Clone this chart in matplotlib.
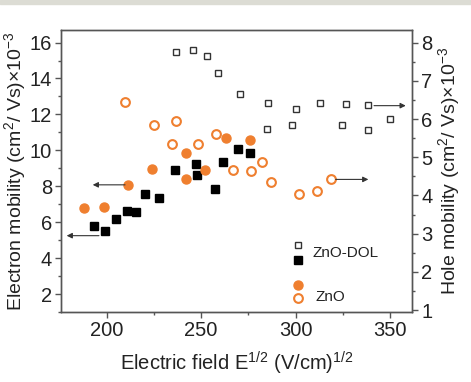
import numpy as np
import matplotlib
matplotlib.use("Agg")
import matplotlib.pyplot as plt
from matplotlib.ticker import MultipleLocator

plt.rcParams["font.family"] = ["Liberation Sans", "DejaVu Sans"]
plt.rcParams["mathtext.fontset"] = "custom"
plt.rcParams["mathtext.rm"] = "Liberation Sans"
plt.rcParams["mathtext.it"] = "Liberation Sans:italic"

ORANGE = "#EF7F2F"
DARK = "#333333"

# ZnO-DOL electron mobility (left axis), filled squares
dol_e_x = [193.1, 199.1, 205.1, 210.6, 215.4, 220.1, 227.7, 236.3, 247.4, 247.6, 257.3, 261.7, 269.5, 275.9]
dol_e_y = [5.81, 5.53, 6.18, 6.63, 6.56, 7.56, 7.37, 8.88, 9.25, 8.64, 7.86, 9.35, 10.07, 9.85]

# ZnO electron mobility (left axis), filled circles
zno_e_x = [188.1, 198.4, 211.4, 223.8, 241.8, 241.8, 252.2, 262.9, 275.8]
zno_e_y = [6.80, 6.87, 8.08, 8.96, 9.85, 8.41, 8.88, 10.68, 10.59]

# ZnO-DOL hole mobility (right axis), open squares
dol_h_x = [236.5, 245.5, 252.9, 259.1, 270.3, 285.2, 300.1, 312.8, 326.5, 338.3, 350.1,
           284.6, 298.0, 324.4, 338.5]
dol_h_y = [7.76, 7.81, 7.66, 7.21, 6.65, 6.43, 6.26, 6.43, 6.39, 6.36, 6.00,
           5.73, 5.84, 5.84, 5.71]

# ZnO hole mobility (right axis), open circles
zno_h_x = [209.7, 225.0, 236.9, 234.8, 248.1, 257.7, 267.0, 276.4, 282.1, 286.9, 301.8, 311.5, 318.7]
zno_h_y = [6.44, 5.85, 5.94, 5.34, 5.35, 5.61, 4.66, 4.63, 4.88, 4.34, 4.05, 4.12, 4.42]

# arrows: (tail x, head x, y)
left_arrows = [(209.7, 192.6, 8.08), (195.9, 178.8, 5.25)]
right_arrows = [(341.5, 358.3, 6.35), (321.2, 338.5, 4.42)]

fig = plt.figure(figsize=(4.71, 3.82), dpi=100)
fig.patches.append(plt.Rectangle((0, 0.99), 1, 0.01, transform=fig.transFigure,
                                 color="#dcdcd4", zorder=0))
ax = fig.add_axes([0.1295, 0.1832, 0.7452, 0.7383])
ax2 = ax.twinx()

ax.plot(dol_e_x, dol_e_y, "s", ms=5.3, color="black", mec="black")
ax.plot(zno_e_x, zno_e_y, "o", ms=6.5, color=ORANGE, mec=ORANGE)
ax2.plot(dol_h_x, dol_h_y, "s", ms=4.6, mfc="none", mec=DARK, mew=1.0)
ax2.plot(zno_h_x, zno_h_y, "o", ms=6.3, mfc="none", mec=ORANGE, mew=1.5)

aprops = dict(arrowstyle="-|>", color=DARK, lw=0.8, mutation_scale=8,
              shrinkA=0, shrinkB=0)
for x0, x1, y in left_arrows:
    ax.annotate("", xy=(x1, y), xytext=(x0, y), arrowprops=aprops)
for x0, x1, y in right_arrows:
    ax2.annotate("", xy=(x1, y), xytext=(x0, y), arrowprops=aprops)

ax.set_xlim(175.8, 361.6)
ax.set_ylim(1.0, 16.7)
ax2.set_ylim(0.95, 8.33)

ax.xaxis.set_major_locator(MultipleLocator(50))
ax.xaxis.set_minor_locator(MultipleLocator(25))
ax.yaxis.set_major_locator(MultipleLocator(2))
ax.yaxis.set_minor_locator(MultipleLocator(1))
ax2.yaxis.set_major_locator(MultipleLocator(1))
ax2.yaxis.set_minor_locator(MultipleLocator(0.5))

for a in (ax, ax2):
    for s in a.spines.values():
        s.set_color("#555555")
        s.set_linewidth(1.0)
    a.tick_params(which="major", length=4.5, width=1.0, color="#555555",
                  labelsize=14.5, labelcolor="#222222", pad=2)
    a.tick_params(which="minor", length=2.5, width=1.0, color="#555555")
ax.tick_params(axis="x", which="both", top=False)

ax.set_xlabel(r"Electric field E$^{1/2}$ (V/cm)$^{1/2}$", fontsize=14.5, color="#222222", labelpad=7)
ax.set_ylabel(r"Electron mobility (cm$^2$/ Vs)$\times$10$^{-3}$", fontsize=14, color="#222222", labelpad=1)
ax2.set_ylabel(r"Hole mobility (cm$^2$/ Vs)$\times$10$^{-3}$", fontsize=14, color="#222222",
               rotation=90, labelpad=3)

# legend drawn in axes coordinates
lx = 0.676
ax.plot([lx], [0.238], "s", ms=4.6, mfc="none", mec=DARK, mew=1.0, transform=ax.transAxes, clip_on=False)
ax.plot([lx], [0.184], "s", ms=5.3, color="black", transform=ax.transAxes, clip_on=False)
ax.text(0.716, 0.208, "ZnO-DOL", fontsize=11, color="#222222", va="center", transform=ax.transAxes)
ax.plot([lx], [0.095], "o", ms=6.5, color=ORANGE, transform=ax.transAxes, clip_on=False)
ax.plot([lx], [0.050], "o", ms=6.3, mfc="none", mec=ORANGE, mew=1.5, transform=ax.transAxes, clip_on=False)
ax.text(0.726, 0.052, "ZnO", fontsize=11, color="#222222", va="center", transform=ax.transAxes)

fig.savefig("out.png", dpi=100)
